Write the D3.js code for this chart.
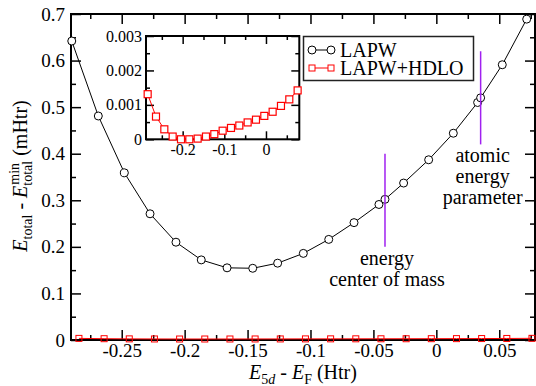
<!DOCTYPE html>
<html>
<head>
<meta charset="utf-8">
<script src="https://cdn.jsdelivr.net/npm/d3@7"></script>
</head>
<body style="margin:0;background:#fff">
<svg id="chart" width="536" height="386"></svg>
<script>
// LAPW total energy vs 5d linearization energy (mHtr)
const lapwX = [-0.2897, -0.2686, -0.2479, -0.2275, -0.2069, -0.1868, -0.1663, -0.1459, -0.1261, -0.1057, -0.0855,
  -0.0654, -0.0456, -0.0408, -0.0260, -0.0061, 0.0135, 0.0328, 0.0352, 0.0524, 0.0718]
const lapwY = [0.642, 0.481, 0.359, 0.271, 0.210, 0.172, 0.155, 0.154, 0.165, 0.186, 0.216,
  0.252, 0.291, 0.302, 0.337, 0.387, 0.444, 0.510, 0.520, 0.591, 0.689]

// LAPW+HDLO
const hdloX = [-0.284, -0.264, -0.244, -0.224, -0.204, -0.184, -0.164, -0.144, -0.124, -0.104, -0.084,
  -0.064, -0.044, -0.024, -0.004, 0.016, 0.036, 0.056, 0.076]
const hdloY = [0.00131, 0.00066, 0.00029, 0.00008, 0.0, 0.0, 0.00002, 0.00008, 0.00015, 0.00025, 0.00033,
  0.00040, 0.00049, 0.00057, 0.00068, 0.00080, 0.00097, 0.00116, 0.00142]

// ticks
const mainXTicks = [-0.25, -0.2, -0.15, -0.1, -0.05, 0, 0.05]
const mainXMinor = [-0.275, -0.225, -0.175, -0.125, -0.075, -0.025, 0.025, 0.075]
const mainYTicks = [0, 0.1, 0.2, 0.3, 0.4, 0.5, 0.6, 0.7]
const mainYMinor = [0.05, 0.15, 0.25, 0.35, 0.45, 0.55, 0.65]
const insetXTicks = [-0.2, -0.1, 0]
const insetXMinor = [-0.25, -0.15, -0.05, 0.05]
const insetYTicks = [0, 0.001, 0.002, 0.003]
const insetYMinor = [0.0005, 0.0015, 0.0025]

// marked energies
const markers = [
  { x: -0.0408, y0: 0.20, y1: 0.40, lines: ['energy', 'center of mass'] },
  { x: 0.0352, y0: 0.42, y1: 0.62, lines: ['atomic', 'energy', 'parameter'] }
]

const FONT = '"Liberation Serif", Tinos, serif'
const fmt = v => (v === 0 ? '0' : String(v))

const svg = d3.select('#chart')

/**
 * Draw a framed panel with inward ticks on all four sides
 */
function drawFrame (g, x, y, xt, xm, yt, ym, opts) {
  const [x0, x1] = x.range()
  const [y0, y1] = y.range()
  const axes = [
    { axis: d3.axisBottom, pos: 'translate(0,' + y0 + ')', s: x, t: xt, m: xm, lab: true },
    { axis: d3.axisTop, pos: 'translate(0,' + y1 + ')', s: x, t: xt, m: xm, lab: false },
    { axis: d3.axisLeft, pos: 'translate(' + x0 + ',0)', s: y, t: yt, m: ym, lab: true },
    { axis: d3.axisRight, pos: 'translate(' + x1 + ',0)', s: y, t: yt, m: ym, lab: false }
  ]
  axes.forEach(a => {
    const major = g.append('g').attr('transform', a.pos)
      .call(a.axis(a.s).tickValues(a.t).tickSizeInner(-opts.major).tickSizeOuter(0)
        .tickPadding(opts.pad).tickFormat(a.lab ? opts.format : () => ''))
    major.select('.domain').remove()
    major.attr('font-family', null)
    major.selectAll('line').attr('stroke', '#000').attr('stroke-width', 1.5)
    major.selectAll('text').attr('font-size', opts.font).attr('fill', '#000')
      .style('font-family', FONT)
    if (!a.lab) major.selectAll('text').remove()
    const minor = g.append('g').attr('transform', a.pos)
      .call(a.axis(a.s).tickValues(a.m).tickSizeInner(-opts.minor).tickSizeOuter(0).tickFormat(() => ''))
    minor.select('.domain').remove()
    minor.selectAll('text').remove()
    minor.selectAll('line').attr('stroke', '#000').attr('stroke-width', 1.5)
  })
  g.append('rect')
    .attr('x', x0).attr('y', y1)
    .attr('width', x1 - x0).attr('height', y0 - y1)
    .attr('fill', 'none').attr('stroke', '#000').attr('stroke-width', 2)
}

// main panel
const xScale = d3.scaleLinear().domain([-0.2903, 0.0784]).range([71, 535])
const yScale = d3.scaleLinear().domain([0, 0.7]).range([340, 14])

const mainG = svg.append('g')
drawFrame(mainG, xScale, yScale, mainXTicks, mainXMinor, mainYTicks, mainYMinor,
  { major: 10, minor: 5, pad: 6, font: 19, format: fmt })
mainG.selectAll('.tick text').each(function () {
  const t = d3.select(this)
  if (t.attr('dy') === '0.71em') t.attr('y', 4)
})

const lapw = lapwX.map((v, i) => ({ x: v, y: lapwY[i] }))
const hdlo = hdloX.map((v, i) => ({ x: v, y: hdloY[i] }))

// HDLO on main scale
mainG.append('path').datum(hdlo)
  .attr('d', d3.line().x(d => xScale(d.x)).y(d => yScale(d.y) - 1))
  .attr('fill', 'none').attr('stroke', '#ff0000').attr('stroke-width', 1)
mainG.selectAll('.hsq').data(hdlo).join('rect')
  .attr('x', d => xScale(d.x) - 3).attr('y', d => yScale(d.y) - 4)
  .attr('width', 6).attr('height', 6)
  .attr('fill', 'none').attr('stroke', '#ff0000').attr('stroke-width', 1)

// LAPW curve
mainG.append('path').datum(lapw)
  .attr('d', d3.line().x(d => xScale(d.x)).y(d => yScale(d.y)))
  .attr('fill', 'none').attr('stroke', '#000').attr('stroke-width', 1)
mainG.selectAll('.lc').data(lapw).join('circle')
  .attr('cx', d => xScale(d.x)).attr('cy', d => yScale(d.y)).attr('r', 4)
  .attr('fill', '#fff').attr('stroke', '#000').attr('stroke-width', 1)

// marker lines and notes
markers.forEach(m => {
  mainG.append('line')
    .attr('x1', xScale(m.x)).attr('x2', xScale(m.x))
    .attr('y1', yScale(m.y1)).attr('y2', yScale(m.y0))
    .attr('stroke', '#a020f0').attr('stroke-width', 1.5)
  m.lines.forEach((s, i) => {
    mainG.append('text')
      .attr('x', xScale(m.x) + 2).attr('y', yScale(m.y0) + 18 + i * 21)
      .attr('text-anchor', 'middle').attr('font-size', 20).style('font-family', FONT).text(s)
  })
})

// inset
const ix = d3.scaleLinear().domain([-0.288, 0.080]).range([146, 299.3])
const iy = d3.scaleLinear().domain([0, 0.003]).range([139.3, 36])
const inset = svg.append('g')
inset.append('rect').attr('x', 146).attr('y', 36).attr('width', 153.3).attr('height', 103.3).attr('fill', '#fff')
drawFrame(inset, ix, iy, insetXTicks, insetXMinor, insetYTicks, insetYMinor,
  { major: 8, minor: 4, pad: 4, font: 16, format: fmt })
inset.append('path').datum(hdlo)
  .attr('d', d3.line().x(d => ix(d.x)).y(d => iy(d.y)))
  .attr('fill', 'none').attr('stroke', '#ff0000').attr('stroke-width', 1)
inset.selectAll('.isq').data(hdlo).join('rect')
  .attr('x', d => ix(d.x) - 3.5).attr('y', d => iy(d.y) - 3.5)
  .attr('width', 7).attr('height', 7)
  .attr('fill', '#fff').attr('stroke', '#ff0000').attr('stroke-width', 1.2)

// legend
const leg = svg.append('g')
leg.append('rect').attr('x', 303.5).attr('y', 36.5).attr('width', 170).attr('height', 44)
  .attr('fill', '#fff').attr('stroke', '#222').attr('stroke-width', 1.5)
const items = [
  { name: 'LAPW', color: '#000', sym: 'circle', y: 50 },
  { name: 'LAPW+HDLO', color: '#ff0000', sym: 'square', y: 68 }
]
items.forEach(it => {
  leg.append('line').attr('x1', 312).attr('x2', 331).attr('y1', it.y).attr('y2', it.y)
    .attr('stroke', it.color).attr('stroke-width', 1)
  ;[312, 331].forEach(cx => {
    if (it.sym === 'circle') {
      leg.append('circle').attr('cx', cx).attr('cy', it.y).attr('r', 4)
        .attr('fill', '#fff').attr('stroke', it.color)
    } else {
      leg.append('rect').attr('x', cx - 3).attr('y', it.y - 3).attr('width', 6).attr('height', 6)
        .attr('fill', '#fff').attr('stroke', it.color)
    }
  })
  leg.append('text').attr('x', 340).attr('y', it.y + 7).attr('font-size', 20)
    .style('font-family', FONT).text(it.name)
})

// axis labels
const xl = svg.append('text').attr('x', 303).attr('y', 379).attr('text-anchor', 'middle')
  .attr('font-size', 20).style('font-family', FONT)
xl.append('tspan').attr('font-style', 'italic').text('E')
xl.append('tspan').attr('font-size', 14).attr('dy', 5).text('5')
xl.append('tspan').attr('font-size', 14).attr('font-style', 'italic').text('d')
xl.append('tspan').attr('dy', -5).text(' - ')
xl.append('tspan').attr('font-style', 'italic').text('E')
xl.append('tspan').attr('font-size', 14).attr('dy', 5).text('F')
xl.append('tspan').attr('dy', -5).text(' (Htr)')

const yl = svg.append('g').attr('transform', 'translate(27,176) rotate(-90)')
const yt = yl.append('text').attr('text-anchor', 'middle').attr('font-size', 20).style('font-family', FONT)
yt.append('tspan').attr('font-style', 'italic').text('E')
yt.append('tspan').attr('font-size', 14).attr('dy', 5).text('total')
yt.append('tspan').attr('dy', -5).text(' - ')
yt.append('tspan').attr('font-style', 'italic').text('E')
const sub = yt.append('tspan').attr('font-size', 14).attr('dy', 5).text('total')
const sup = yt.append('tspan').attr('font-size', 14).attr('dy', -13).text('min')
const tail = yt.append('tspan').attr('dy', 8).text(' (mHtr)')
const wSub = sub.node().getComputedTextLength()
const wSup = sup.node().getComputedTextLength()
sup.attr('dx', -wSub + 1)
tail.attr('dx', wSub - wSup - 1)
</script>
</body>
</html>
